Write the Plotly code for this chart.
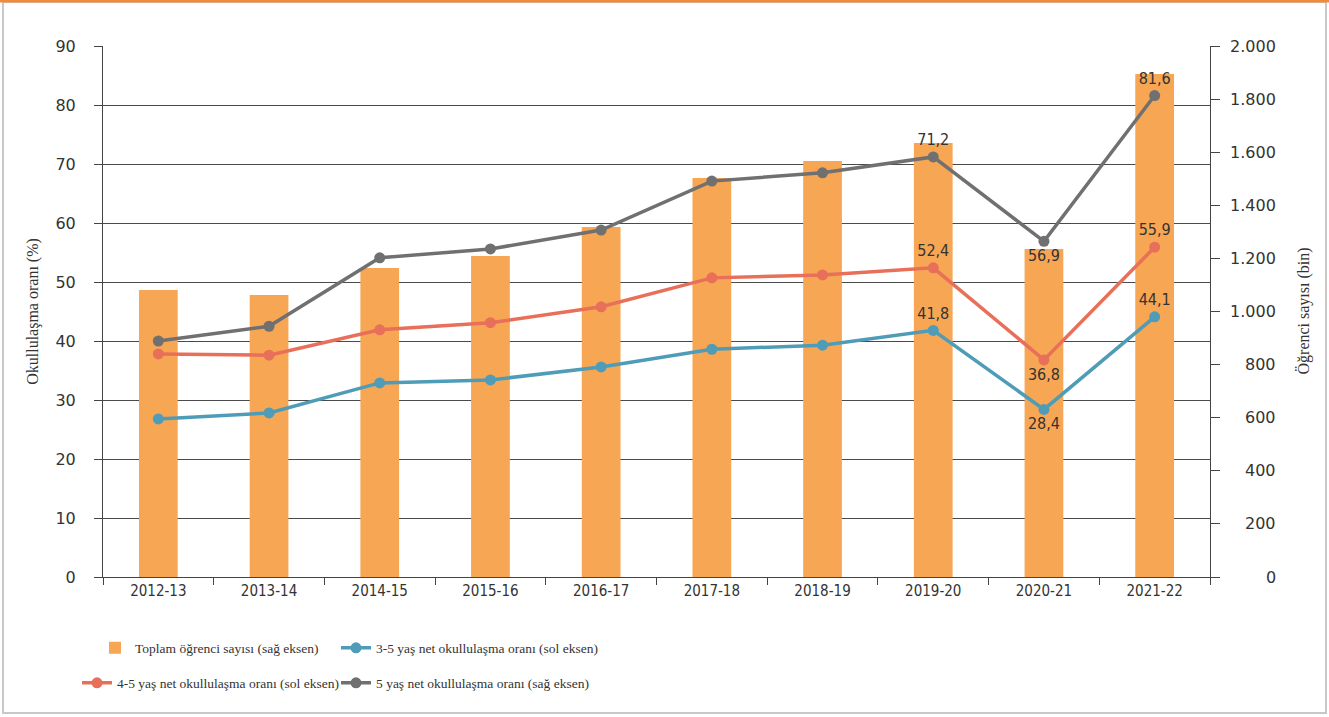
import plotly.graph_objects as go

years = ["2012-13", "2013-14", "2014-15", "2015-16", "2016-17",
         "2017-18", "2018-19", "2019-20", "2020-21", "2021-22"]
toplam_ogrenci = [1081, 1062, 1164, 1209, 1318, 1503, 1567, 1635, 1235, 1895]
oran_3_5 = [26.8, 27.8, 32.9, 33.4, 35.6, 38.6, 39.3, 41.8, 28.4, 44.1]
oran_4_5 = [37.8, 37.6, 41.9, 43.1, 45.8, 50.7, 51.2, 52.4, 36.8, 55.9]
oran_5 = [40.0, 42.5, 54.1, 55.6, 58.8, 67.1, 68.5, 71.2, 56.9, 81.6]
right_ticks = [0, 200, 400, 600, 800, 1000, 1200, 1400, 1600, 1800, 2000]

labelled = {"2019-20", "2020-21", "2021-22"}

def labels(vals):
    return [f"{v:.1f}".replace(".", ",") if y in labelled else "" for y, v in zip(years, vals)]

def positions(vals):
    pos = []
    for i, v in enumerate(vals):
        if 0 < i < len(vals) - 1 and v < vals[i - 1] and v < vals[i + 1]:
            pos.append("bottom center")
        else:
            pos.append("top center")
    return pos

def thousands(v):
    return f"{v:,}".replace(",", ".")

W, H = 1329, 717
L, R, T, B = 103, 119, 46, 140

BAR = "#F7A654"
BLUE = "#4F9CB8"
RED = "#E8705A"
GRAY = "#707070"
TXT = "#333333"
COND = "DejaVu Sans Condensed, sans-serif"
SANS = "DejaVu Sans, sans-serif"
SERIF = "Liberation Serif, serif"

pw = W - L - R
ph = H - T - B

def px_x(p):
    return (p - L) / pw

def px_y(p):
    return (H - B - p) / ph

fig = go.Figure()
fig.add_trace(go.Bar(x=years, y=toplam_ogrenci, name="Toplam öğrenci sayısı (sağ eksen)",
                     marker=dict(color=BAR, line=dict(width=0)), width=0.35, yaxis="y",
                     legend="legend"))
fig.add_trace(go.Scatter(x=years, y=oran_3_5, name="3-5 yaş net okullulaşma oranı (sol eksen)",
                         mode="lines+markers+text", line=dict(color=BLUE, width=3.5),
                         marker=dict(size=11, color=BLUE), text=labels(oran_3_5),
                         textposition=positions(oran_3_5), yaxis="y2",
                         textfont=dict(size=16, color=TXT, family=COND), legend="legend2"))
fig.add_trace(go.Scatter(x=years, y=oran_4_5, name="4-5 yaş net okullulaşma oranı (sol eksen)",
                         mode="lines+markers+text", line=dict(color=RED, width=3.5),
                         marker=dict(size=11, color=RED), text=labels(oran_4_5),
                         textposition=positions(oran_4_5), yaxis="y2",
                         textfont=dict(size=16, color=TXT, family=COND), legend="legend3"))
fig.add_trace(go.Scatter(x=years, y=oran_5, name="5 yaş net okullulaşma oranı (sağ eksen)",
                         mode="lines+markers+text", line=dict(color=GRAY, width=3.5),
                         marker=dict(size=11, color=GRAY), text=labels(oran_5),
                         textposition=positions(oran_5), yaxis="y2",
                         textfont=dict(size=16, color=TXT, family=COND), legend="legend4"))

shapes = [
    dict(type="rect", xref="paper", yref="paper", x0=px_x(3), x1=px_x(W - 3), y0=px_y(H - 4), y1=px_y(2),
         line=dict(color="#C8C8C8", width=2), fillcolor="rgba(0,0,0,0)", layer="below"),
    dict(type="line", xref="paper", yref="paper", x0=px_x(0), x1=px_x(W), y0=px_y(1), y1=px_y(1),
         line=dict(color="#F08A3C", width=3)),
]

annotations = [
    dict(xref="paper", yref="y", x=px_x(1278), y=v, text=thousands(v), showarrow=False,
         xanchor="right", yanchor="middle", font=dict(family=SANS, size=16, color=TXT))
    for v in right_ticks
]
annotations.append(dict(xref="paper", yref="paper", x=px_x(1303), y=0.5, text="Öğrenci sayısı (bin)",
                        textangle=-90, showarrow=False, xanchor="center", yanchor="middle",
                        font=dict(family=SERIF, size=16, color=TXT)))

def leg(xpx, ypx):
    return dict(orientation="h", x=px_x(xpx), y=px_y(ypx), xanchor="left", yanchor="middle",
                font=dict(size=13.5, color=TXT, family=SERIF), bgcolor="rgba(0,0,0,0)")

fig.update_layout(
    width=W, height=H,
    margin=dict(l=L, r=R, t=T, b=B, autoexpand=False),
    paper_bgcolor="white", plot_bgcolor="white",
    font=dict(family=SANS, size=15, color=TXT),
    showlegend=True,
    shapes=shapes,
    annotations=annotations,
    xaxis=dict(type="category", range=[-0.5, len(years) - 0.5], showgrid=False, showline=True,
               linecolor="#444", linewidth=1,
               ticks="outside", tickson="boundaries", ticklen=7, tickcolor="#444",
               tickfont=dict(size=15, color=TXT, family=COND), automargin=False),
    yaxis=dict(range=[0, 2000], tickvals=right_ticks, side="right", showgrid=False,
               showline=True, linecolor="#444", linewidth=1, ticks="outside", ticklen=9,
               tickcolor="#444", showticklabels=False, zeroline=False, automargin=False),
    yaxis2=dict(range=[0, 90], dtick=10, overlaying="y", side="left", showgrid=True,
                gridcolor="#4a4a4a", gridwidth=1,
                showline=True, linecolor="#444", linewidth=1, ticks="outside", ticklen=8,
                tickcolor="#444", zeroline=False, ticklabelstandoff=15, automargin=False,
                title=dict(text="Okullulaşma oranı (%)", font=dict(size=16, family=SERIF), standoff=12),
                tickfont=dict(size=16, color=TXT, family=SANS)),
    legend=leg(95, 648),
    legend2=leg(336, 648),
    legend3=leg(77, 683),
    legend4=leg(336, 683),
)

fig.write_html("out.html", post_script="document.body.style.margin='0';",
               config={"displayModeBar": False})
